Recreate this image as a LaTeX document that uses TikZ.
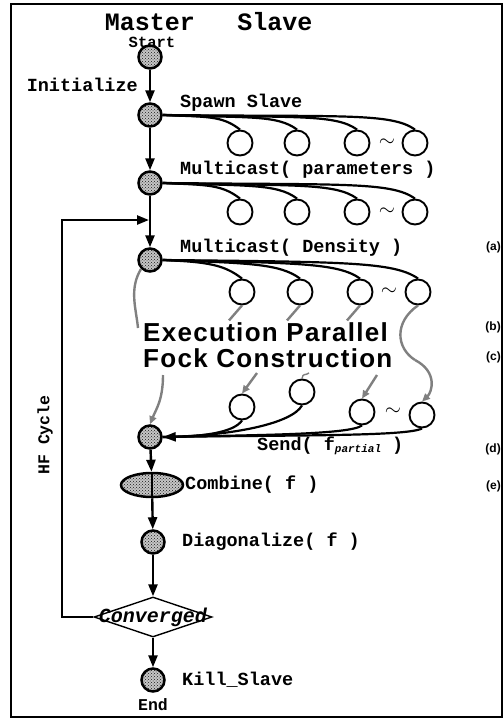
\documentclass[tikz,border=0pt]{standalone}
\usepackage{fontspec}
\setmainfont{Liberation Serif}
\setmonofont{Liberation Mono}
\newfontfamily\helv{Liberation Sans}
\newfontfamily\helvw{Liberation Sans}[LetterSpace=5]
\usetikzlibrary{arrows.meta,shapes.geometric,patterns}

\begin{document}
\begin{tikzpicture}[x=1pt, y=-1pt,
   mono/.style={font=\ttfamily\bfseries\fontsize{18.5}{20}\selectfont},
   lbl/.style={mono, anchor=west, inner sep=0pt},
   head/.style={font=\ttfamily\bfseries\fontsize{25}{28}\selectfont, inner sep=0pt},
   mst/.style={circle, draw, line width=2.5pt, minimum size=23pt, inner sep=0pt,
               preaction={fill=gray!45}, pattern=crosshatch dots, pattern color=black!90},
   slv/.style={circle, draw, line width=1.9pt, minimum size=25pt, inner sep=0pt},
   flow/.style={line width=2.4pt, -{Triangle[length=12pt,width=9pt]}},
   wire/.style={line width=2.2pt},
   comp/.style={draw=black!50, line width=2.4pt},
   tip/.style={-{Triangle[length=8pt,width=7pt]}},
   tld/.style={font=\fontsize{20}{20}\selectfont, inner sep=0pt},
   side/.style={font=\helv\bfseries\fontsize{12}{14}\selectfont, anchor=east, inner sep=0pt}]

  \useasboundingbox (0,0) rectangle (503,720);
  \draw[line width=1.6pt] (11,4) rectangle (502,717);

  % ===== Titres =====
  \node[head] (hm) at (150,22) {Master};
  \node[head] (hs) at (275,22) {Slave};
  \node[mono, font=\ttfamily\bfseries\fontsize{15.5}{17}\selectfont, inner sep=0pt] (hst) at (152,42) {Start};
  \node[mono, font=\ttfamily\bfseries\fontsize{16.5}{18}\selectfont, inner sep=0pt] (hen) at (153,705) {End};

  % ===== Master : colonne principale =====
  \node[mst] (st) at (150,57) {};
  \node[mst] (sp) at (150,115) {};
  \node[mst] (mp) at (150,183) {};
  \node[mst] (md) at (150,260) {};
  \node[mst] (sd) at (150,437) {};
  \node[mst, ellipse, minimum width=62pt, minimum height=24pt] (cb) at (152,485) {};
  \node[mst] (dg) at (153,542) {};
  \node[draw, diamond, aspect=3, line width=1.4pt, minimum width=118pt,
        minimum height=40pt, inner sep=0pt] (cv) at (153,617) {};
  \node[font=\ttfamily\bfseries\itshape\fontsize{20}{20}\selectfont, inner sep=0pt]
        (cvt) at (cv.center) {Converged};
  \node[mst] (kl) at (153,680) {};

  % ===== Etiquettes =====
  \node[mono, anchor=east, inner sep=0pt] (lin) at (138,85) {Initialize};
  \node[lbl] (lsp) at (180,103) {Spawn Slave};
  \node[lbl] (lmp) at (180,170) {Multicast( parameters )};
  \node[lbl] (lmd) at (180,248) {Multicast( Density )};
  \node[lbl] (lsd) at (257,446)
        {Send( f\raisebox{-1.5pt}{\ttfamily\bfseries\itshape\fontsize{11}{12}\selectfont partial} )};
  \node[lbl] (lcb) at (185,485) {Combine( f )};
  \node[lbl] (ldg) at (182,542) {Diagonalize( f )};
  \node[lbl] (lkl) at (182,680) {Kill\_Slave};
  \node[mono, font=\ttfamily\bfseries\fontsize{16.5}{18}\selectfont, rotate=90, inner sep=0pt]
        (hf) at (45,435) {HF Cycle};
  \node[font=\helvw\bfseries\fontsize{26}{26}\selectfont, align=left, anchor=west, inner sep=0pt]
        (ex) at (143,345) {Execution Parallel\\Fock Construction};
  \node[side] (ta) at (501,247) {(a)};
  \node[side] (tb) at (501,327) {(b)};
  \node[side] (tc) at (501,357) {(c)};
  \node[side] (td) at (501,449) {(d)};
  \node[side] (te) at (501,486) {(e)};

  % ===== Slaves =====
  \node[slv] (s11) at (240,143) {};
  \node[slv] (s12) at (297,143) {};
  \node[slv] (s13) at (357,143) {};
  \node[tld] (t1) at (387,143) {$\sim$};
  \node[slv] (s14) at (415,143) {};

  \node[slv] (s21) at (240,212) {};
  \node[slv] (s22) at (297,212) {};
  \node[slv] (s23) at (357,212) {};
  \node[tld] (t2) at (387,212) {$\sim$};
  \node[slv] (s24) at (415,212) {};

  \node[slv] (r31) at (242,292) {};
  \node[slv] (r32) at (300,292) {};
  \node[slv] (r33) at (360,292) {};
  \node[tld] (t3) at (389,292) {$\sim$};
  \node[slv] (r34) at (418,292) {};

  \node[slv] (r41) at (242,407) {};
  \node[slv] (r42) at (302,392) {};
  \node[slv] (r43) at (362,412) {};
  \node[tld] (t4) at (393,412) {$\sim$};
  \node[slv] (r44) at (422,415) {};

  % ===== Fleches principales =====
  \draw[flow] (st) -- (sp);
  \draw[flow] (sp) -- (mp);
  \draw[flow] (mp) -- (md);
  \draw[flow] (sd) -- (cb);
  \draw[line width=1.5pt] (cb.north) -- (cb.south);
  \draw[flow] (cb) -- (dg);
  \draw[flow] (dg) -- (cv);
  \draw[flow] (cv) -- (kl);
  \coordinate (fbc) at (62,617);
  \coordinate (fbin) at (149,220);
  \draw[flow] (cv.west) -- (fbc) |- (fbin);

  % ===== Spawn / Multicast vers les slaves =====
  \draw[wire] (sp.east) .. controls +(45,2) and +(-18,-14) .. (s11.north);
  \draw[wire] (sp.east) .. controls +(85,3) and +(-20,-15) .. (s12.north);
  \draw[wire] (sp.east) .. controls +(130,3) and +(-22,-16) .. (s13.north);
  \draw[wire] (sp.east) .. controls +(180,2) and +(-24,-17) .. (s14.north);

  \draw[wire] (mp.east) .. controls +(45,2) and +(-18,-14) .. (s21.north);
  \draw[wire] (mp.east) .. controls +(85,3) and +(-20,-15) .. (s22.north);
  \draw[wire] (mp.east) .. controls +(130,3) and +(-22,-16) .. (s23.north);
  \draw[wire] (mp.east) .. controls +(180,2) and +(-24,-17) .. (s24.north);

  \draw[wire] (md.east) .. controls +(45,2) and +(-18,-14) .. (r31.north);
  \draw[wire] (md.east) .. controls +(85,3) and +(-20,-15) .. (r32.north);
  \draw[wire] (md.east) .. controls +(130,3) and +(-22,-16) .. (r33.north);
  \draw[wire] (md.east) .. controls +(180,2) and +(-24,-17) .. (r34.north);

  % ===== Calcul parallele =====
  \draw[comp] (r31.south) -- ++(-13,15);
  \draw[comp] (r32.south) -- ++(-13,15);
  \draw[comp] (r33.south) -- ++(-13,15);
  \coordinate (lc) at (138,328);
  \draw[comp] (md.south west) .. controls +(-12,20) and +(-2,-20) .. (lc);
  \coordinate (rc) at (415,360);
  \draw[comp] (r34.south) .. controls (394,322) and (396,348) .. (rc);
  \draw[comp, tip] (rc) .. controls (438,372) and (432,392) .. (r44.north);
  \coordinate (lb) at (163,375);
  \draw[comp, tip] (lb) .. controls +(0,25) and +(6,-15) .. (sd.north);
  \coordinate (i1) at (257,373);
  \draw[comp, tip] (i1) -- (r41.north);
  \coordinate (q2) at (309,373);
  \draw[comp, line width=1.4pt] (r42.north) .. controls +(1,-6) and +(-4,3) .. (q2);
  \coordinate (i3) at (377,375);
  \draw[comp, tip] (i3) -- (r43.north);

  % ===== Send vers le master =====
  \draw[wire] (r41.south) .. controls +(-8,12) and +(40,0) .. (sd.east);
  \draw[wire] (r42.south) .. controls +(-10,18) and +(70,-1) .. (sd.east);
  \draw[wire] (r43.south) .. controls +(-12,9) and +(100,-2) .. (sd.east);
  \draw[wire, -{Triangle[length=13pt,width=9pt]}] (r44.south) .. controls +(-15,8) and +(130,-2) .. (sd.east);

\end{tikzpicture}
\end{document}
